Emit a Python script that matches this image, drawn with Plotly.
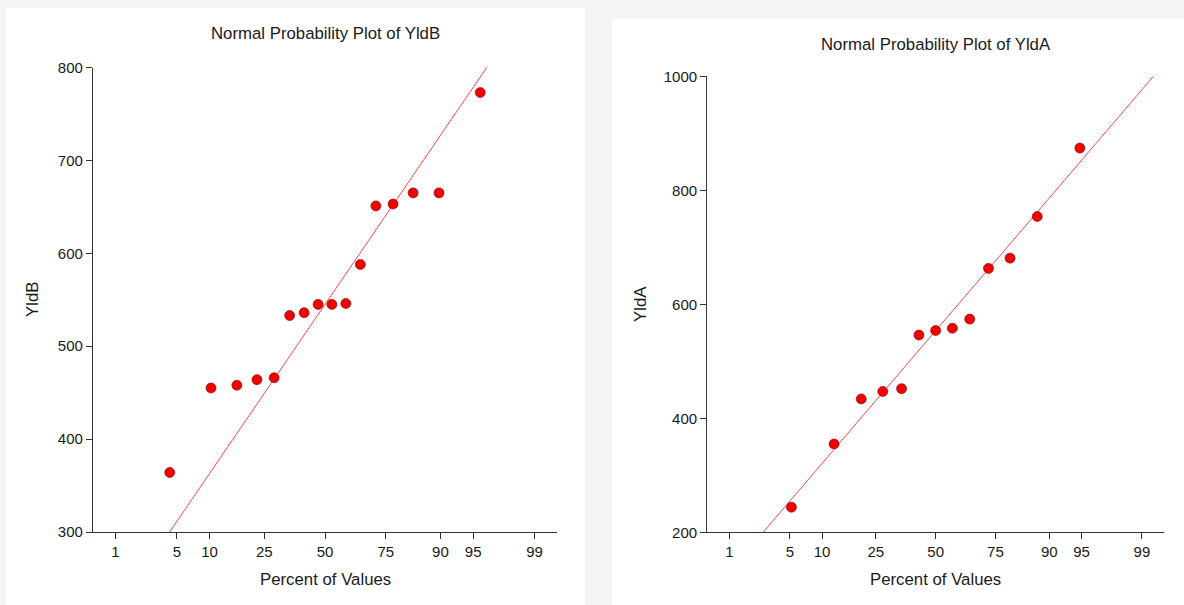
import plotly.graph_objects as go
from statistics import NormalDist

# ---------------- data ----------------
tick_percents = [1, 5, 10, 25, 50, 75, 90, 95, 99]
tick_labels = ["1", "5", "10", "25", "50", "75", "90", "95", "99"]

yldb_percent = [4.24, 10.28, 16.39, 22.50, 28.61, 34.73, 40.84, 46.95,
                53.05, 59.16, 65.27, 71.39, 77.50, 83.61, 89.72, 95.76]
yldb_values = [364, 455, 458, 464, 466, 533, 536, 545,
               545, 546, 588, 651, 653, 665, 665, 773]
yldb_fit_center = 545.0   # value of reference line at 50 %
yldb_fit_scale = 142.0    # value change per standard normal unit

ylda_percent = [5.19, 12.59, 20.07, 27.55, 35.03, 42.52, 50.00,
                57.48, 64.97, 72.45, 79.93, 87.41, 94.81]
ylda_values = [244, 355, 434, 447, 452, 546, 554, 558, 574, 663, 681, 754, 874]
ylda_fit_center = 553.7
ylda_fit_scale = 181.7

axis_percent_range = [0.5, 99.5]

# ---------------- helpers ----------------
nd = NormalDist()


def z(p):
    return nd.inv_cdf(p / 100.0)


W, H = 1184, 605
FONT = "Liberation Sans, Arial, sans-serif"
TXT = "#1a1a1a"
AX = "#333333"
TICK_SIZE = 15
TITLE_SIZE = 16.8


def px(xp):
    return xp / W


def py(yp):
    return 1 - yp / H


fig = go.Figure()

zr = [z(axis_percent_range[0]), z(axis_percent_range[1])]

panels = [
    dict(pct=yldb_percent, val=yldb_values, c=yldb_fit_center, s=yldb_fit_scale,
         xa="x", ya="y", name="YldB"),
    dict(pct=ylda_percent, val=ylda_values, c=ylda_fit_center, s=ylda_fit_scale,
         xa="x2", ya="y2", name="YldA"),
]

for p in panels:
    fig.add_trace(go.Scatter(
        x=zr, y=[p["c"] + p["s"] * zz for zz in zr],
        mode="lines", line=dict(color="rgba(255,40,40,0.85)", width=1),
        xaxis=p["xa"], yaxis=p["ya"], hoverinfo="skip", showlegend=False))
    fig.add_trace(go.Scatter(
        x=[z(v) for v in p["pct"]], y=p["val"], mode="markers",
        marker=dict(color="#F00000", size=10,
                    line=dict(color="rgba(140,20,20,0.7)", width=1)),
        xaxis=p["xa"], yaxis=p["ya"], showlegend=False, name=p["name"]))

xcommon = dict(
    range=zr, tickmode="array", tickvals=[z(t) for t in tick_percents],
    ticktext=tick_labels, ticks="outside", ticklen=6, tickwidth=1.3,
    tickcolor=AX, showline=True, linecolor=AX, linewidth=1.3,
    showgrid=False, zeroline=False, automargin=False,
    tickfont=dict(family=FONT, size=TICK_SIZE, color=TXT), fixedrange=True)
ycommon = dict(
    ticks="outside", ticklen=6, tickwidth=1.3, tickcolor=AX,
    showline=True, linecolor=AX, linewidth=1.3, showgrid=False,
    zeroline=False, automargin=False,
    tickfont=dict(family=FONT, size=TICK_SIZE, color=TXT),
    fixedrange=True)

fig.update_layout(
    template="none",
    width=W, height=H, margin=dict(l=0, r=0, t=0, b=0, pad=0),
    autosize=False,
    paper_bgcolor="#F4F4F4", plot_bgcolor="rgba(0,0,0,0)",
    font=dict(family=FONT, color=TXT),
    xaxis=dict(domain=[px(93), px(557)], anchor="y", **xcommon),
    yaxis=dict(domain=[py(532), py(67.5)], anchor="x", range=[300, 800],
               tickvals=[300, 400, 500, 600, 700, 800], **ycommon),
    xaxis2=dict(domain=[px(707.3), px(1164)], anchor="y2", **xcommon),
    yaxis2=dict(domain=[py(532.3), py(76.3)], anchor="x2", range=[200, 1000],
                tickvals=[200, 400, 600, 800, 1000], **ycommon),
)

# white cards
fig.add_shape(type="rect", xref="paper", yref="paper", layer="below",
              x0=px(6), x1=px(585), y0=py(605), y1=py(8),
              fillcolor="white", line=dict(width=0))
fig.add_shape(type="rect", xref="paper", yref="paper", layer="below",
              x0=px(612), x1=px(1184), y0=py(605), y1=py(19),
              fillcolor="white", line=dict(width=0))


def ann(text, x, y, size, angle=0):
    fig.add_annotation(text=text, x=px(x), y=py(y), xref="paper", yref="paper",
                       xanchor="center", yanchor="middle", showarrow=False,
                       textangle=angle, font=dict(family=FONT, size=size, color=TXT))


ann("Normal Probability Plot of YldB", 325, 33, TITLE_SIZE)
ann("Normal Probability Plot of YldA", 935.7, 44, TITLE_SIZE)
ann("Percent of Values", 325, 579, TITLE_SIZE)
ann("Percent of Values", 935.7, 579, TITLE_SIZE)
ann("YldB", 32, 300, TITLE_SIZE, -90)
ann("YldA", 640, 304, TITLE_SIZE, -90)

fig.write_html("out.html")
